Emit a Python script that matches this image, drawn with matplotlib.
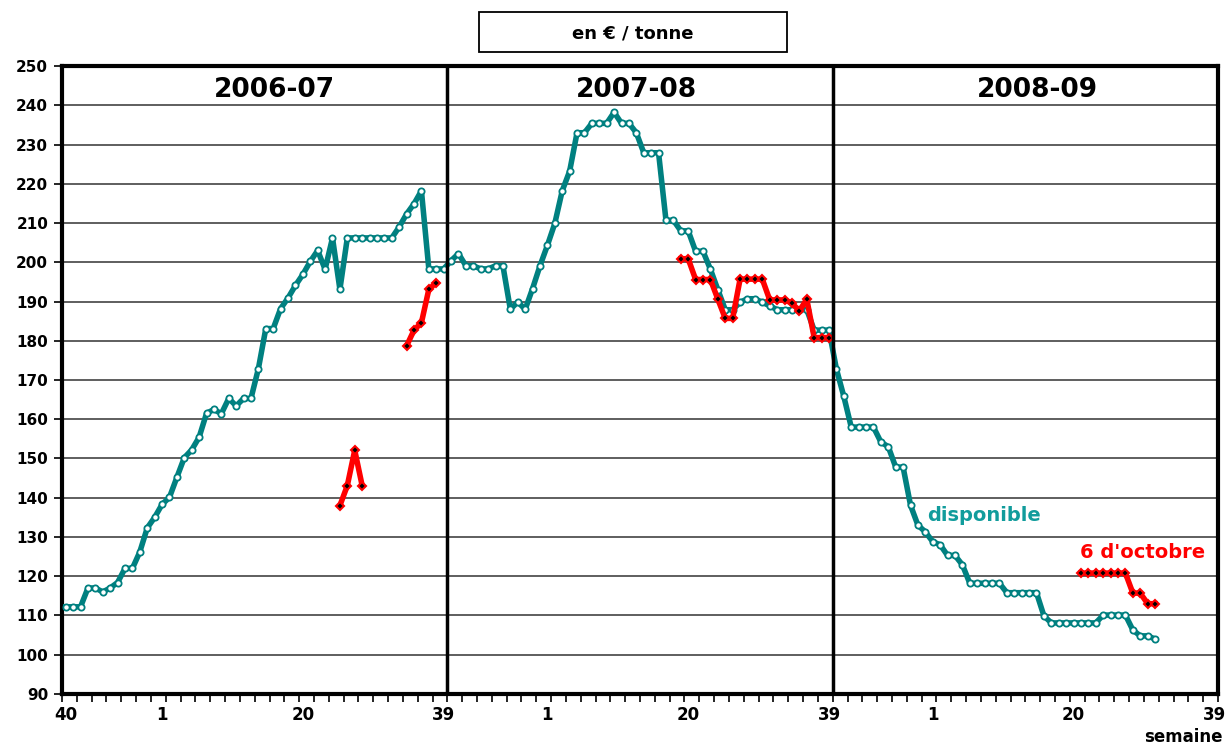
import numpy as np
import matplotlib
matplotlib.use('Agg')
import matplotlib.pyplot as plt
from matplotlib.patches import Rectangle

nan = np.nan

''' ========== data (en euro / tonne, par semaine, semaine 40 -> 39) ========== '''
seasons = ['2006-07', '2007-08', '2008-09']

dispo_0607 = [112.2, 112.2, 112.2, 117, 117, 116, 117, 118.4, 122, 122, 126.2, 132.3, 135,
              138.3, 140.1, 145.2, 150.2, 152.2, 155.4, 161.5, 162.5, 161.4, 165.3, 163.4, 165.3, 165.3,
              172.9, 183.1, 183.1, 188.2, 190.9, 194.1, 196.9, 200.2, 203, 198.2, 206.2, 193.1, 206.2,
              206.2, 206.2, 206.2, 206.2, 206.2, 206.2, 209, 212.3, 214.9, 218.2, 198.3, 198.3, 198.3]
dispo_0708 = [200.4, 202.2, 199.1, 199.1, 198.3, 198.3, 199.1, 199.1, 188, 189.9, 188, 193.3, 199.1,
              204.3, 209.9, 218.2, 223.2, 233, 233, 235.4, 235.4, 235.4, 238.2, 235.4, 235.4, 233,
              227.9, 227.9, 227.9, 210.7, 210.7, 208, 208, 202.8, 202.8, 198.2, 193, 187.9, 187.9,
              189.8, 190.7, 190.7, 189.8, 188.9, 187.9, 187.9, 187.9, 187.9, 187.9, 182.7, 182.7, 182.7]
dispo_0809 = [172.8, 165.8, 158, 158, 158, 158, 154.2, 153, 147.8, 147.8, 138.1, 133, 131.3,
              128.8, 128, 125.3, 125.3, 122.9, 118.2, 118.2, 118.2, 118.2, 118.2, 115.8, 115.8, 115.8,
              115.8, 115.8, 109.9, 108.1, 108.1, 108.1, 108.1, 108.1, 108.1, 108.1, 110.1, 110.1, 110.1,
              110.1, 106.3, 104.8, 104.8, 104]

oct_0607 = [nan] * 37 + [138, 143.1, 152.1, 143.1] + [nan] * 5 + [178.7, 182.7, 184.6, 193.1, 194.8, nan]
oct_0708 = [nan] * 31 + [200.9, 200.9, 195.6, 195.6, 195.6, 190.6, 185.7, 185.7, 195.7, 195.7, 195.7,
                         195.7, 190.4, 190.4, 190.4, 189.6, 187.6, 190.6, 180.8, 180.8, 180.8]
oct_0809 = [nan] * 33 + [120.8, 120.8, 120.8, 120.8, 120.8, 120.8, 120.8, 115.7, 115.7, 113, 113]

tick_weeks = ['40', '1', '20', '39']
tick_pos = [0.5, 13.5, 32.5, 51.5]


def main():
    dispo = np.array(dispo_0607 + dispo_0708 + dispo_0809, dtype=float)
    octo = np.array(oct_0607 + oct_0708 + oct_0809, dtype=float)
    x_dispo = np.arange(len(dispo)) + 0.5
    x_octo = np.arange(len(octo)) + 0.5

    teal = '#008080'
    fig = plt.figure(figsize=(12.28, 7.47), dpi=100)
    ax = fig.add_axes([0.0505, 0.071, 0.9414, 0.8406])

    ax.plot(x_dispo, dispo, color=teal, lw=4, marker='o', ms=4.5, mfc='white', mec=teal, mew=1.3,
            zorder=3, solid_joinstyle='round')
    ax.plot(x_octo, octo, color='red', lw=4, marker='D', ms=4.2, mfc='black', mec='red', mew=1.5,
            zorder=4, solid_joinstyle='round')

    ax.set_xlim(0, 156)
    ax.set_ylim(90, 250)
    ax.set_yticks(np.arange(90, 251, 10))
    ax.yaxis.grid(True, color='#333333', lw=1.1)
    ax.set_axisbelow(True)

    # season separators
    for b in [52, 104]:
        ax.axvline(b, color='black', lw=2.5, zorder=5)

    # x ticks: labels at category centres, minor ticks every 2 weeks
    pos = []
    labels = []
    for s in range(3):
        for p, lab in zip(tick_pos, tick_weeks):
            if s > 0 and lab == '40':
                continue
            pos.append(p + 52 * s)
            labels.append(lab)
    ax.set_xticks(pos)
    ax.set_xticklabels(labels, fontsize=12, fontweight='bold')
    ax.tick_params(axis='x', which='major', length=0, pad=9)
    ax.set_xticks(np.arange(0, 157, 2), minor=True)
    ax.tick_params(axis='x', which='minor', length=6, width=1.2, direction='out')
    ax.tick_params(axis='y', length=6, width=1.2, direction='out', pad=4)
    for lab in ax.get_yticklabels():
        lab.set_fontsize(11)
        lab.set_fontweight('bold')

    for sp in ax.spines.values():
        sp.set_linewidth(3)
        sp.set_color('black')

    for s, name in enumerate(seasons):
        ax.text([28.6, 77.5, 131.6][s], 243.8, name, ha='center', va='center',
                fontsize=19, fontweight='bold')

    ax.text(116.7, 135.6, 'disponible', color='#119c9c', fontsize=14, fontweight='bold',
            ha='left', va='center')
    ax.text(137.4, 126.0, "6 d'octobre", color='red', fontsize=14, fontweight='bold',
            ha='left', va='center')

    # unit box
    box = Rectangle((479 / 1228, 1 - 52 / 747), 308 / 1228, 40 / 747, transform=fig.transFigure,
                    fc='white', ec='black', lw=1.3)
    fig.patches.append(box)
    fig.text(633 / 1228, 1 - 33 / 747, 'en € / tonne', ha='center', va='center', fontsize=13,
             fontweight='bold')
    fig.text(0.9955, 0.001, 'semaine', ha='right', va='bottom', fontsize=12, fontweight='bold')

    fig.savefig('out.png', dpi=100)


if __name__ == "__main__":
    main()
